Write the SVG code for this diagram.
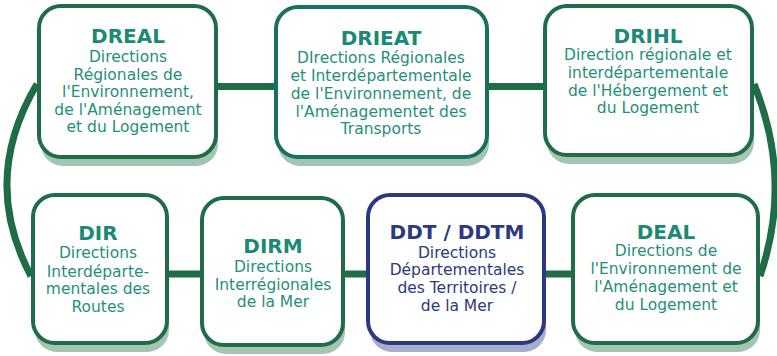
<svg xmlns="http://www.w3.org/2000/svg" width="777" height="356" viewBox="0 0 777 356">
<style>
.sh{fill:#a4c5b1}
.shb{fill:#a6aecb}
.box{fill:#ffffff;stroke:#1f6c47;stroke-width:4}
.boxt{fill:#ffffff;stroke:#18705e;stroke-width:4}
.boxb{fill:#ffffff;stroke:#2b3a80;stroke-width:4}
.t{font-family:"DejaVu Sans",sans-serif;font-weight:bold;font-size:20px;fill:#1a8a74;text-anchor:middle}
.b{font-family:"DejaVu Sans",sans-serif;font-size:15.5px;fill:#1f907a;text-anchor:middle}
.navy{fill:#2b3a80}
.c{fill:none;stroke:#1f6c47;stroke-width:7}
</style>
<rect width="777" height="356" fill="#ffffff"/>
<g id="connectors">
<line class="c" x1="214" y1="86.5" x2="278" y2="86.5"/>
<line class="c" x1="485" y1="86.5" x2="547" y2="86.5"/>
<line class="c" x1="165" y1="274" x2="204" y2="274"/>
<line class="c" x1="341" y1="274" x2="370" y2="274"/>
<line class="c" x1="542" y1="274" x2="575" y2="274"/>
<path class="c" d="M37,84 Q-20,180 31,276"/>
<path class="c" d="M754,84 Q793,180 760,276"/>
</g>
<g id="DREAL">
<rect class="sh" x="41" y="15" width="177" height="151" rx="22"/>
<rect class="box" x="39" y="6" width="177" height="151" rx="22"/>
<text class="t" x="128" y="43">DREAL</text>
<text class="b" x="128" y="62">Directions</text>
<text class="b" x="128" y="79.5">Régionales de</text>
<text class="b" x="128" y="97">l'Environnement,</text>
<text class="b" x="128" y="114.5">de l'Aménagement</text>
<text class="b" x="128" y="132">et du Logement</text>
</g>
<g id="DRIEAT">
<rect class="sh" x="278" y="16" width="211" height="150" rx="22"/>
<rect class="boxt" x="276" y="7" width="211" height="150" rx="22"/>
<text class="t" x="381" y="45">DRIEAT</text>
<text class="b" x="381" y="63">DIrections Régionales</text>
<text class="b" x="381" y="81">et Interdépartementale</text>
<text class="b" x="381" y="99">de l'Environnement, de</text>
<text class="b" x="381" y="117">l'Aménagementet des</text>
<text class="b" x="381" y="134">Transports</text>
</g>
<g id="DRIHL">
<rect class="sh" x="547" y="15" width="207" height="149" rx="22"/>
<rect class="box" x="545" y="6" width="207" height="149" rx="22"/>
<text class="t" x="648" y="43">DRIHL</text>
<text class="b" x="648" y="60">Direction régionale et</text>
<text class="b" x="648" y="78">interdépartementale</text>
<text class="b" x="648" y="96">de l'Hébergement et</text>
<text class="b" x="648" y="113">du Logement</text>
</g>
<g id="DIR">
<rect class="sh" x="35" y="204" width="134" height="148" rx="22"/>
<rect class="box" x="33" y="195" width="134" height="148" rx="22"/>
<text class="t" x="98" y="240">DIR</text>
<text class="b" x="98" y="258">Directions</text>
<text class="b" x="98" y="276.5">Interdéparte-</text>
<text class="b" x="98" y="294">mentales des</text>
<text class="b" x="98" y="312">Routes</text>
</g>
<g id="DIRM">
<rect class="sh" x="204" y="207" width="141" height="147" rx="22"/>
<rect class="box" x="202" y="198" width="141" height="147" rx="22"/>
<text class="t" x="273" y="253">DIRM</text>
<text class="b" x="273" y="272">Directions</text>
<text class="b" x="273" y="289.5">Interrégionales</text>
<text class="b" x="273" y="307">de la Mer</text>
</g>
<g id="DDT">
<rect class="shb" x="370" y="204" width="176" height="148" rx="22"/>
<rect class="boxb" x="368" y="195" width="176" height="148" rx="22"/>
<text class="t navy" x="457" y="238.5">DDT / DDTM</text>
<text class="b navy" x="457" y="257.5">Directions</text>
<text class="b navy" x="457" y="275">Départementales</text>
<text class="b navy" x="457" y="293">des Territoires /</text>
<text class="b navy" x="457" y="311">de la Mer</text>
</g>
<g id="DEAL">
<rect class="sh" x="575" y="204" width="185" height="148" rx="22"/>
<rect class="box" x="573" y="195" width="185" height="148" rx="22"/>
<text class="t" x="666" y="239">DEAL</text>
<text class="b" x="666" y="256">Directions de</text>
<text class="b" x="666" y="274">l'Environnement de</text>
<text class="b" x="666" y="292">l'Aménagement et</text>
<text class="b" x="666" y="310">du Logement</text>
</g>
</svg>
